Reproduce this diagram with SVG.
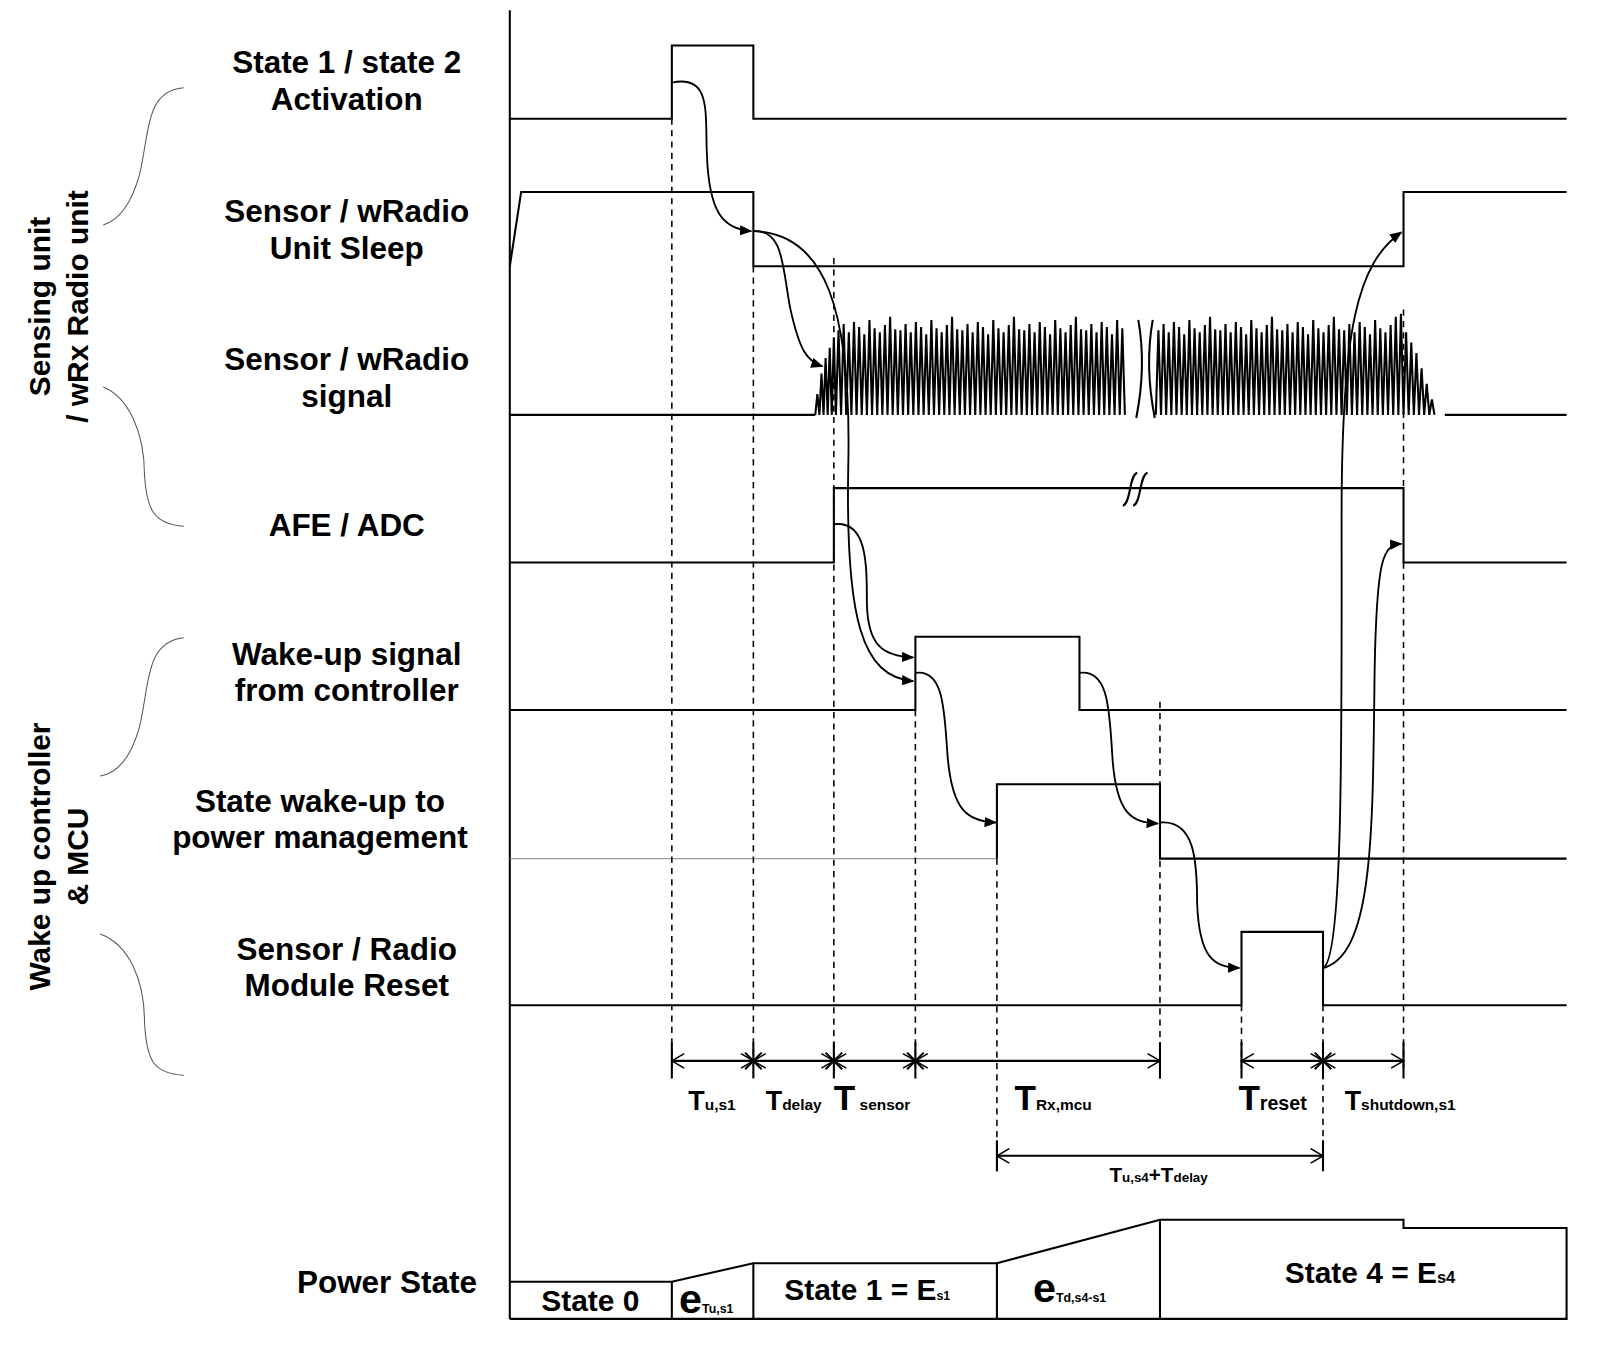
<svg xmlns="http://www.w3.org/2000/svg" width="1617" height="1363" viewBox="0 0 1617 1363">
<style>
.s{fill:none;stroke:#000;stroke-width:2}
.d{fill:none;stroke:#000;stroke-width:1.5;stroke-dasharray:6,5}
.c{fill:none;stroke:#000;stroke-width:1.8}
.t{font-family:"Liberation Sans",Arial,sans-serif;font-weight:bold;font-size:30.5px;text-anchor:middle}
.g{font-family:"Liberation Sans",Arial,sans-serif;font-weight:bold;font-size:29px;text-anchor:middle}
.m{font-family:"Liberation Sans",Arial,sans-serif;font-weight:bold}
</style>
<defs>
<marker id="ah" markerWidth="12" markerHeight="10" refX="11" refY="5" orient="auto" markerUnits="userSpaceOnUse"><path d="M0,0 L12,5 L0,10 Z"/></marker>
<marker id="oa" markerWidth="14" markerHeight="16" refX="13" refY="8" orient="auto" markerUnits="userSpaceOnUse"><path d="M1,1 L13,8 L1,15" fill="none" stroke="#000" stroke-width="1.5"/></marker>
<marker id="oas" markerWidth="14" markerHeight="16" refX="1" refY="8" orient="auto" markerUnits="userSpaceOnUse"><path d="M13,1 L1,8 L13,15" fill="none" stroke="#000" stroke-width="1.5"/></marker>
</defs>
<rect width="1617" height="1363" fill="#fff"/>
<g transform="scale(1.032)">
<g id="labels">
<text class="t" x="336" y="71">State 1 / state 2</text><text class="t" x="336" y="107">Activation</text>
<text class="t" x="336" y="215">Sensor / wRadio</text><text class="t" x="336" y="251">Unit Sleep</text>
<text class="t" x="336" y="359">Sensor / wRadio</text><text class="t" x="336" y="394">signal</text>
<text class="t" x="336" y="519">AFE / ADC</text>
<text class="t" x="336" y="644">Wake-up signal</text><text class="t" x="336" y="679">from controller</text>
<text class="t" x="310" y="787">State wake-up to</text><text class="t" x="310" y="822">power management</text>
<text class="t" x="336" y="930">Sensor / Radio</text><text class="t" x="336" y="965">Module Reset</text>
<text class="t" x="375" y="1253">Power State</text>
<text class="g" transform="translate(48,297) rotate(-90)">Sensing unit</text>
<text class="g" transform="translate(85,297) rotate(-90)">/ wRx Radio unit</text>
<text class="g" transform="translate(48,830) rotate(-90)">Wake up controller</text>
<text class="g" transform="translate(85,830) rotate(-90)">&amp; MCU</text>
<g stroke="#555" stroke-width="1" fill="none">
<path d="M178,85 C140,88 145,130 135,170 C125,205 110,215 100,218"/>
<path d="M100,375 C125,385 140,420 140,460 C142,495 150,508 178,510"/>
<path d="M178,618 C140,622 145,665 135,705 C125,740 110,750 97,752"/>
<path d="M97,905 C125,915 140,950 140,990 C142,1030 150,1040 178,1042"/>
</g>
</g>
<g id="axis"><path class="s" d="M494,10 V1278"/></g>
<g id="signals">
<path class="s" d="M494,115 H651 V44 H730 V115 H1518"/>
<path class="s" d="M494,258 L505,186 H730 V258 H1360 V186 H1518"/>
<path class="s" d="M494,402 H790 M1400,402 H1518"/>
<path class="s" stroke-width="1.2" d="M790,402 l2,-20 l2,20 l2,-40 l2,40 l2,-55 l2,55 l2,-65 l2,65 l2,-75 l2,75
l2.5,-82 l2.5,82 l2.5,-88 l2.5,88 l2.5,-80 l2.5,80 l2.5,-90 l2.5,90 l2.5,-85 l2.5,85 l2.5,-78 l2.5,78 l2.5,-92 l2.5,92 l2.5,-84 l2.5,84 l2.5,-80 l2.5,80 l2.5,-87 l2.5,87 l2.5,-95 l2.5,95 l2.5,-83 l2.5,83
l2.5,-82 l2.5,82 l2.5,-88 l2.5,88 l2.5,-80 l2.5,80 l2.5,-90 l2.5,90 l2.5,-85 l2.5,85 l2.5,-78 l2.5,78 l2.5,-92 l2.5,92 l2.5,-84 l2.5,84 l2.5,-80 l2.5,80 l2.5,-87 l2.5,87 l2.5,-95 l2.5,95 l2.5,-83 l2.5,83
l2.5,-82 l2.5,82 l2.5,-88 l2.5,88 l2.5,-80 l2.5,80 l2.5,-90 l2.5,90 l2.5,-85 l2.5,85 l2.5,-78 l2.5,78 l2.5,-92 l2.5,92 l2.5,-84 l2.5,84 l2.5,-80 l2.5,80 l2.5,-87 l2.5,87 l2.5,-95 l2.5,95 l2.5,-83 l2.5,83
l2.5,-82 l2.5,82 l2.5,-88 l2.5,88 l2.5,-80 l2.5,80 l2.5,-90 l2.5,90 l2.5,-85 l2.5,85 l2.5,-78 l2.5,78 l2.5,-92 l2.5,92 l2.5,-84 l2.5,84 l2.5,-80 l2.5,80 l2.5,-87 l2.5,87 l2.5,-95 l2.5,95 l2.5,-83 l2.5,83
l2.5,-82 l2.5,82 l2.5,-88 l2.5,88 l2.5,-80 l2.5,80 l2.5,-90 l2.5,90 l2.5,-85 l2.5,85 l2.5,-78 l2.5,78 l2.5,-92 l2.5,92 l2.5,-84 l2.5,84
M1120,402 l2.5,-82 l2.5,82 l2.5,-88 l2.5,88 l2.5,-80 l2.5,80 l2.5,-90 l2.5,90 l2.5,-85 l2.5,85 l2.5,-78 l2.5,78 l2.5,-92 l2.5,92 l2.5,-84 l2.5,84 l2.5,-80 l2.5,80 l2.5,-87 l2.5,87 l2.5,-95 l2.5,95 l2.5,-83 l2.5,83
l2.5,-82 l2.5,82 l2.5,-88 l2.5,88 l2.5,-80 l2.5,80 l2.5,-90 l2.5,90 l2.5,-85 l2.5,85 l2.5,-78 l2.5,78 l2.5,-92 l2.5,92 l2.5,-84 l2.5,84 l2.5,-80 l2.5,80 l2.5,-87 l2.5,87 l2.5,-95 l2.5,95 l2.5,-83 l2.5,83
l2.5,-82 l2.5,82 l2.5,-88 l2.5,88 l2.5,-80 l2.5,80 l2.5,-90 l2.5,90 l2.5,-85 l2.5,85 l2.5,-78 l2.5,78 l2.5,-92 l2.5,92 l2.5,-84 l2.5,84 l2.5,-80 l2.5,80 l2.5,-87 l2.5,87 l2.5,-95 l2.5,95 l2.5,-83 l2.5,83
l2.5,-82 l2.5,82 l2.5,-88 l2.5,88 l2.5,-80 l2.5,80 l2.5,-90 l2.5,90 l2.5,-85 l2.5,85 l2.5,-78 l2.5,78 l2.5,-92 l2.5,92 l2.5,-84 l2.5,84 l2.5,-80 l2.5,80 l2.5,-87 l2.5,87 l2.5,-95 l2.5,95 l2.5,-98 l2.5,98
l2.5,-80 l2.5,80 l2.5,-70 l2.5,70 l2.5,-60 l2.5,60 l2.5,-45 l2.5,45 l2.5,-30 l2.5,30 l2.5,-15 l2.5,15"/>
<path class="s" d="M1103,310 q8,45 -2,95 M1117,310 q-8,45 2,95"/>
<path class="s" d="M494,545 H808 V473 H1360 V545 H1518"/>
<path class="s" stroke-width="1.5" d="M1088,490 c8,-2 6,-30 14,-32 M1098,490 c8,-2 6,-30 14,-32"/>
<path class="s" d="M494,688 H887 V617 H1046 V688 H1518"/>
<path fill="none" stroke="#999" stroke-width="1.2" d="M494,832 H966"/>
<path class="s" d="M966,832 V760 H1124 V832 H1518"/>
<path class="s" d="M494,974 H1203 V903 H1282 V974 H1518"/>
</g>
<g id="dashes">
<path class="d" d="M651,115 V1040 M730,258 V1040 M808,250 V1040 M887,688 V1040 M966,832 V1135 M1124,680 V1045 M1203,974 V1040 M1282,974 V1130 M1360,300 V473 M1360,545 V1040"/>
</g>
<g id="timing">
<path class="s" stroke-width="1.5" d="M651,1010 V1045 M730,1010 V1045 M808,1010 V1045 M887,1010 V1045 M1124,1010 V1045 M1203,1010 V1045 M1282,1010 V1045 M1360,1010 V1045 M966,1105 V1135 M1282,1105 V1135"/>
<path class="s" stroke-width="1.5" d="M722,1020 l16,16 M722,1036 l16,-16 M800,1020 l16,16 M800,1036 l16,-16 M879,1020 l16,16 M879,1036 l16,-16 M1274,1020 l16,16 M1274,1036 l16,-16"/>
<path class="s" stroke-width="1.5" marker-start="url(#oas)" marker-end="url(#oa)" d="M651,1028 H730"/>
<path class="s" stroke-width="1.5" marker-start="url(#oas)" marker-end="url(#oa)" d="M730,1028 H808"/>
<path class="s" stroke-width="1.5" marker-start="url(#oas)" marker-end="url(#oa)" d="M808,1028 H887"/>
<path class="s" stroke-width="1.5" marker-start="url(#oas)" marker-end="url(#oa)" d="M887,1028 H1124"/>
<path class="s" stroke-width="1.5" marker-start="url(#oas)" marker-end="url(#oa)" d="M1203,1028 H1282"/>
<path class="s" stroke-width="1.5" marker-start="url(#oas)" marker-end="url(#oa)" d="M1282,1028 H1360"/>
<path class="s" stroke-width="1.5" marker-start="url(#oas)" marker-end="url(#oa)" d="M966,1120 H1282"/>
<text class="m" x="667" y="1076" font-size="26">T<tspan font-size="15">u,s1</tspan></text>
<text class="m" x="742" y="1076" font-size="26">T<tspan font-size="15">delay</tspan></text>
<text class="m" x="808" y="1076" font-size="34">T<tspan font-size="15"> sensor</tspan></text>
<text class="m" x="983" y="1076" font-size="34">T<tspan font-size="15">Rx,mcu</tspan></text>
<text class="m" x="1200" y="1076" font-size="34">T<tspan font-size="19">reset</tspan></text>
<text class="m" x="1303" y="1076" font-size="26">T<tspan font-size="15">shutdown,s1</tspan></text>
<text class="m" x="1075" y="1145" font-size="20">T<tspan font-size="13">u,s4</tspan>+T<tspan font-size="13">delay</tspan></text>
</g>
<g id="power">
<path class="s" d="M494,1278 H1518 V1190 H1360 V1182 H1124 L966,1224 H730 L651,1242 H494"/>
<path class="s" d="M651,1242 V1278 M730,1224 V1278 M966,1224 V1278 M1124,1182 V1278"/>
<text class="m" x="572" y="1270" font-size="29" text-anchor="middle">State 0</text>
<text class="m" x="658" y="1272" font-size="40">e<tspan font-size="12">Tu,s1</tspan></text>
<text class="m" x="760" y="1260" font-size="29">State 1 = E<tspan font-size="12">s1</tspan></text>
<text class="m" x="1001" y="1262" font-size="40">e<tspan font-size="12">Td,s4-s1</tspan></text>
<text class="m" x="1245" y="1243" font-size="29">State 4  = E<tspan font-size="16">s4</tspan></text>
</g>
<g id="connectors">
<path class="c" marker-end="url(#ah)" d="M651,80 C690,72 683,110 685,150 C687,205 700,222 728,224"/>
<path class="c" marker-end="url(#ah)" d="M730,224 C760,222 758,260 766,300 C775,340 782,350 797,355"/>
<path class="c" marker-end="url(#ah)" d="M730,224 C800,226 825,300 822,450 C819,600 835,656 885,660"/>
<path class="c" marker-end="url(#ah)" d="M808,508 C840,504 840,545 840,585 C841,625 855,636 885,637"/>
<path class="c" marker-end="url(#ah)" d="M887,652 C915,648 915,690 918,730 C922,785 937,796 965,797"/>
<path class="c" marker-end="url(#ah)" d="M1046,652 C1075,648 1075,690 1078,735 C1082,790 1097,797 1122,798"/>
<path class="c" marker-end="url(#ah)" d="M1124,797 C1158,794 1160,835 1160,875 C1162,930 1177,937 1201,938"/>
<path class="c" marker-end="url(#ah)" d="M1282,938 C1302,930 1300,700 1300,500 C1300,320 1315,255 1358,225"/>
<path class="c" marker-end="url(#ah)" d="M1282,938 C1332,925 1330,800 1332,650 C1334,540 1340,528 1358,527"/>
</g>
</g>
</svg>
